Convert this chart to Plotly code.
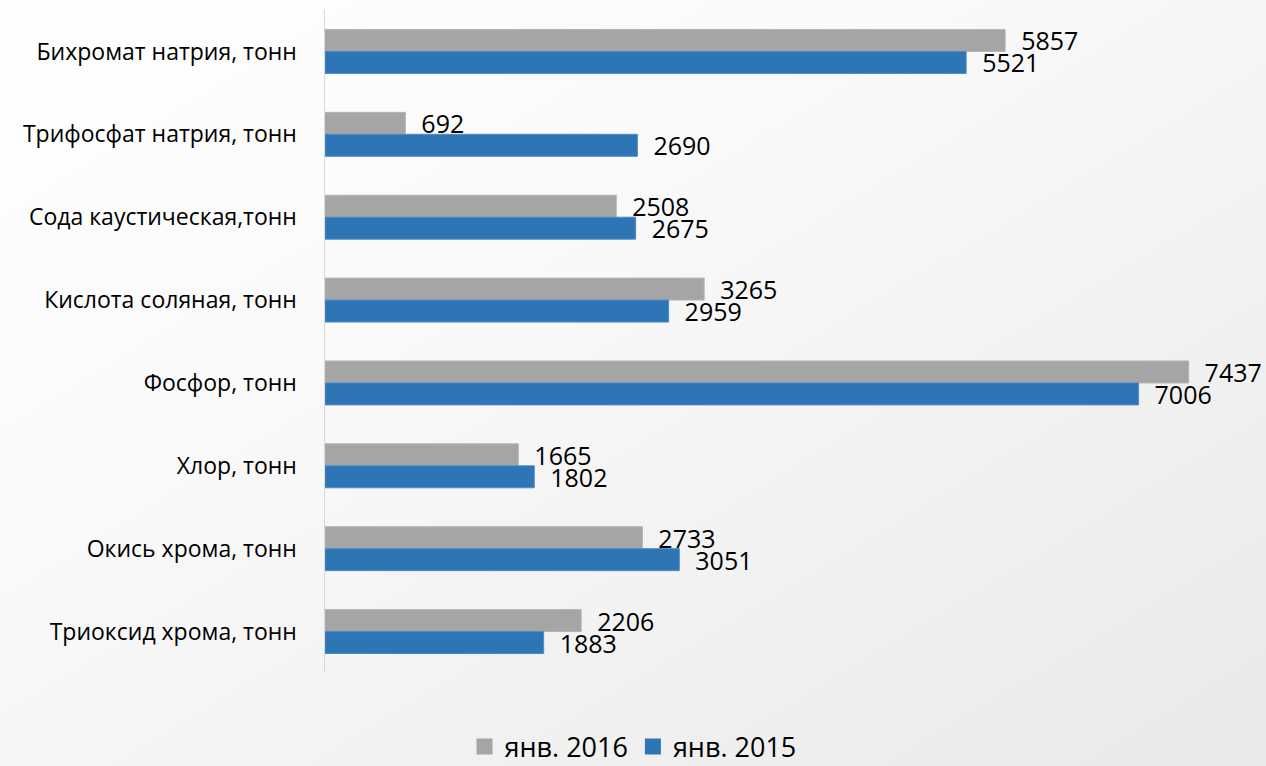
import base64
import plotly.graph_objects as go

categories = [
    "Бихромат натрия, тонн",
    "Трифосфат натрия, тонн",
    "Сода каустическая,тонн",
    "Кислота соляная, тонн",
    "Фосфор, тонн",
    "Хлор, тонн",
    "Окись хрома, тонн",
    "Триоксид хрома, тонн",
]
jan_2016 = [5857, 692, 2508, 3265, 7437, 1665, 2733, 2206]
jan_2015 = [5521, 2690, 2675, 2959, 7006, 1802, 3051, 1883]
series_names = ["янв. 2016", "янв. 2015"]
colors = ["#a5a5a5", "#2e75b6"]

FONT = "Open Sans"
W, H = 1266, 766
L, R, T, B = 325, 12, 10, 93
pw, ph = W - L - R, H - T - B

svg = (
    '<svg xmlns="http://www.w3.org/2000/svg" width="1266" height="766" preserveAspectRatio="none">'
    '<defs><linearGradient id="g" x1="0" y1="0" x2="1" y2="1">'
    '<stop offset="0" stop-color="#ffffff"/><stop offset="0.35" stop-color="#fafafa"/>'
    '<stop offset="1" stop-color="#e9e9e9"/></linearGradient></defs>'
    '<rect width="1266" height="766" fill="url(#g)"/></svg>'
)
bg = "data:image/svg+xml;base64," + base64.b64encode(svg.encode()).decode()

pad = "\u00a0\u00a0"
fig = go.Figure()
for vals, name, col, edge in [(jan_2016, series_names[0], colors[0], "#b4b4b4"),
                              (jan_2015, series_names[1], colors[1], "#4a8cc8")]:
    fig.add_trace(go.Bar(
        y=categories, x=vals, name=name, orientation="h", showlegend=False,
        marker=dict(color=col, line=dict(color=edge, width=1)),
        texttemplate=pad + "%{x}", textposition="outside", constraintext="none", cliponaxis=False,
        textfont=dict(size=25, color="#000000", family=FONT),
    ))
for name, col in zip(series_names, colors):
    fig.add_trace(go.Scatter(
        x=[None], y=[None], mode="markers", name=name, showlegend=True,
        marker=dict(symbol="square", size=16, color=col),
    ))

fig.update_layout(
    width=W, height=H,
    margin=dict(l=L, r=R, t=T, b=B, pad=0, autoexpand=False),
    barmode="group", bargap=0.47, bargroupgap=0,
    paper_bgcolor="rgba(0,0,0,0)", plot_bgcolor="rgba(0,0,0,0)",
    font=dict(family=FONT, color="#000000"),
    showlegend=True,
    legend=dict(orientation="h", x=(633 - L) / pw, xanchor="center", xref="paper",
                y=-(747 - (H - B)) / ph, yanchor="middle", yref="paper",
                font=dict(size=27, family=FONT), traceorder="normal",
                itemwidth=30, bgcolor="rgba(0,0,0,0)", itemsizing="trace"),
    images=[dict(source=bg, xref="paper", yref="paper",
                 x=-L / pw, y=1 + T / ph, sizex=W / pw, sizey=H / ph,
                 xanchor="left", yanchor="top", sizing="stretch", layer="below")],
)
fig.update_xaxes(range=[0, 8000], visible=False, showgrid=False, zeroline=False)
fig.update_yaxes(autorange="reversed", showline=True, linecolor="#d9d9d9", linewidth=1.5,
                 showgrid=False, ticks="", ticklabelstandoff=22,
                 tickfont=dict(size=23, family=FONT, color="#000000"))

fig.write_html("out.html", config={"displayModeBar": False, "staticPlot": True},
               post_script="document.body.style.margin='0';document.body.style.overflow='hidden';")
